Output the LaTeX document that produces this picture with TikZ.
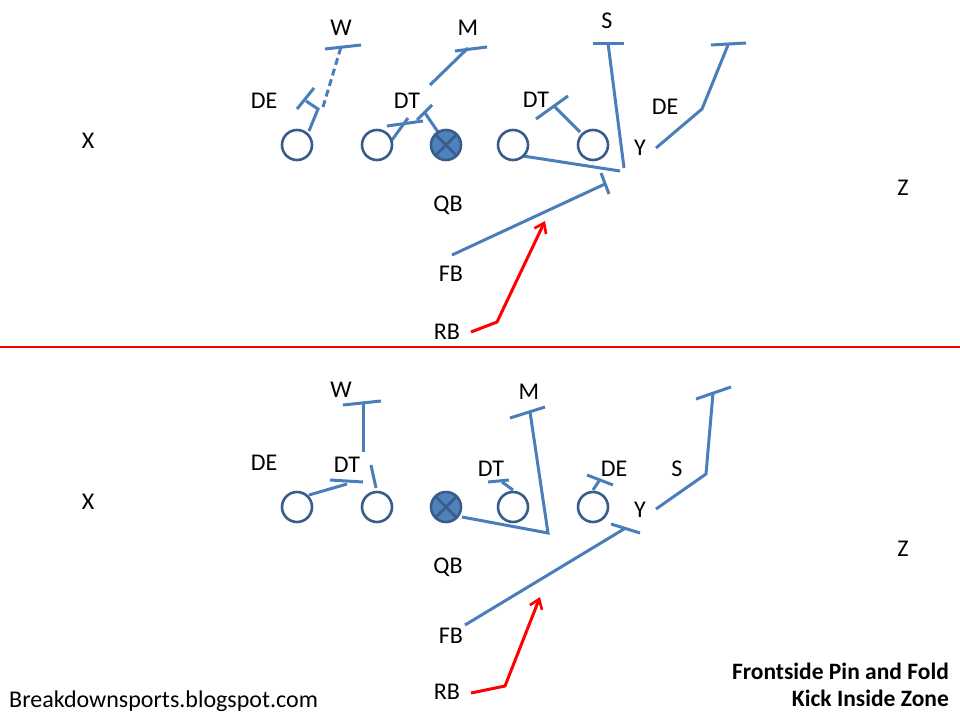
\documentclass[tikz,border=0pt]{standalone}
\usepackage{fontspec}
\setmainfont{Carlito}
\usetikzlibrary{arrows.meta}
\definecolor{lineblue}{HTML}{4A7EBB}
\definecolor{darkblue}{HTML}{385D8A}
\definecolor{fillblue}{HTML}{4F81BD}
\definecolor{redline}{HTML}{FF0000}
\tikzset{
  lbl/.style={inner sep=0pt, font=\fontsize{24}{28}\selectfont},
  foot/.style={inner sep=0pt, font=\fontsize{24}{28}\selectfont},
  footbold/.style={inner sep=0pt, font=\fontsize{23.5}{28}\selectfont\bfseries},
  lineman/.style={circle, draw=darkblue, line width=2.6pt, fill=white, minimum size=30pt, inner sep=0pt, outer sep=0pt},
  center/.style={lineman, fill=fillblue},
  route/.style={draw=lineblue, line width=3pt},
  tbar/.style={draw=lineblue, line width=3pt},
  runpath/.style={draw=redline, line width=3pt, -{Straight Barb[length=9pt,width=13pt,line width=2.6pt]}},
}
\begin{document}
\begin{tikzpicture}[x=1pt,y=-1pt]
\useasboundingbox (0,0) rectangle (960,720);
\fill[white] (0,0) rectangle (960,720);

% ===== TOP =====
\draw[route] (309,131) -- (318,109) -- (306,101);
\draw[tbar] (297,109) -- (314,88);
\draw[route, dash pattern=on 7pt off 4pt] (323,107) -- (341,47);
\draw[tbar] (325,49) -- (361,45);
\draw[route] (392,140) -- (408,118);
\draw[tbar] (387,126) -- (423,121);
\draw[route] (438,132) -- (425,113);
\draw[tbar] (417,120) -- (432,105);
\draw[route] (430,85) -- (468,48);
\draw[tbar] (455,51) -- (487,47);
\draw[route] (580,132) -- (554,106);
\draw[tbar] (536,119) -- (568,96);
\draw[route] (523,156) -- (620,171);
\draw[route] (624,168) -- (608,43);
\draw[tbar] (593,43) -- (624,43);
\draw[route] (656,148) -- (702,109) -- (728,45);
\draw[tbar] (711,45) -- (746,43);
\draw[route] (452,255) -- (605,184);
\draw[tbar] (601,173) -- (609,194);
\coordinate (rbt1) at (471,332);
\coordinate (rbt2) at (497,322);
\coordinate (rbt3) at (545,221);
\draw[runpath] (rbt1) -- (rbt2) -- (rbt3);

\node[lineman] (t1) at (297,145) {};
\node[lineman] (t2) at (377,145) {};
\node[center] (t3) at (446,145) {};
\draw[darkblue, line width=2.5pt] (t3.45) -- (t3.225) (t3.135) -- (t3.315);
\node[lineman] (t4) at (513,145) {};
\node[lineman] (t5) at (593,145) {};

\node[lbl] at (88,141) {X};
\node[lbl] at (341,28) {W};
\node[lbl] at (468,28) {M};
\node[lbl] at (607,21) {S};
\node[lbl] at (264,101) {DE};
\node[lbl] at (407,101) {DT};
\node[lbl] at (536,100) {DT};
\node[lbl] at (665,107) {DE};
\node[lbl] at (640,148) {Y};
\node[lbl] at (903,188) {Z};
\node[lbl] at (448,205) {QB};
\node[lbl] at (451,274) {FB};
\node[lbl] at (447,332) {RB};

\draw[redline, line width=2.5pt] (0,347) -- (960,347);

% ===== BOTTOM =====
\draw[route] (363,452) -- (363,403);
\draw[tbar] (343,405) -- (381,401);
\draw[route] (309,495) -- (347,484);
\draw[tbar] (330,480) -- (363,482);
\draw[route] (376,488) -- (371,465);
\draw[route] (462,517) -- (548,533) -- (530,412);
\draw[tbar] (510,418) -- (545,407);
\draw[route] (513,490) -- (502,482);
\draw[tbar] (488,482) -- (509,480);
\draw[route] (593,490) -- (599,481);
\draw[tbar] (587,475) -- (613,485);
\draw[route] (656,509) -- (706,474) -- (713,393);
\draw[tbar] (696,399) -- (731,387);
\draw[route] (465,625) -- (624,529);
\draw[tbar] (611,524) -- (640,533);
\coordinate (rbb1) at (471,693);
\coordinate (rbb2) at (505,686);
\coordinate (rbb3) at (540,597);
\draw[runpath] (rbb1) -- (rbb2) -- (rbb3);

\node[lineman] (b1) at (297,507) {};
\node[lineman] (b2) at (377,507) {};
\node[center] (b3) at (446,507) {};
\draw[darkblue, line width=2.5pt] (b3.45) -- (b3.225) (b3.135) -- (b3.315);
\node[lineman] (b4) at (513,507) {};
\node[lineman] (b5) at (593,507) {};

\node[lbl] at (88,502) {X};
\node[lbl] at (341,390) {W};
\node[lbl] at (529,392) {M};
\node[lbl] at (264,463) {DE};
\node[lbl] at (347,465) {DT};
\node[lbl] at (491,469) {DT};
\node[lbl] at (614,469) {DE};
\node[lbl] at (677,469) {S};
\node[lbl] at (640,510) {Y};
\node[lbl] at (903,549) {Z};
\node[lbl] at (448,567) {QB};
\node[lbl] at (451,636) {FB};
\node[lbl] at (447,692) {RB};

\node[foot, anchor=base west] at (9,707) {Breakdownsports.blogspot.com};
\node[footbold, anchor=base east] at (949,679) {Frontside Pin and Fold};
\node[footbold, anchor=base east] at (949,706) {Kick Inside Zone};
\end{tikzpicture}
\end{document}
